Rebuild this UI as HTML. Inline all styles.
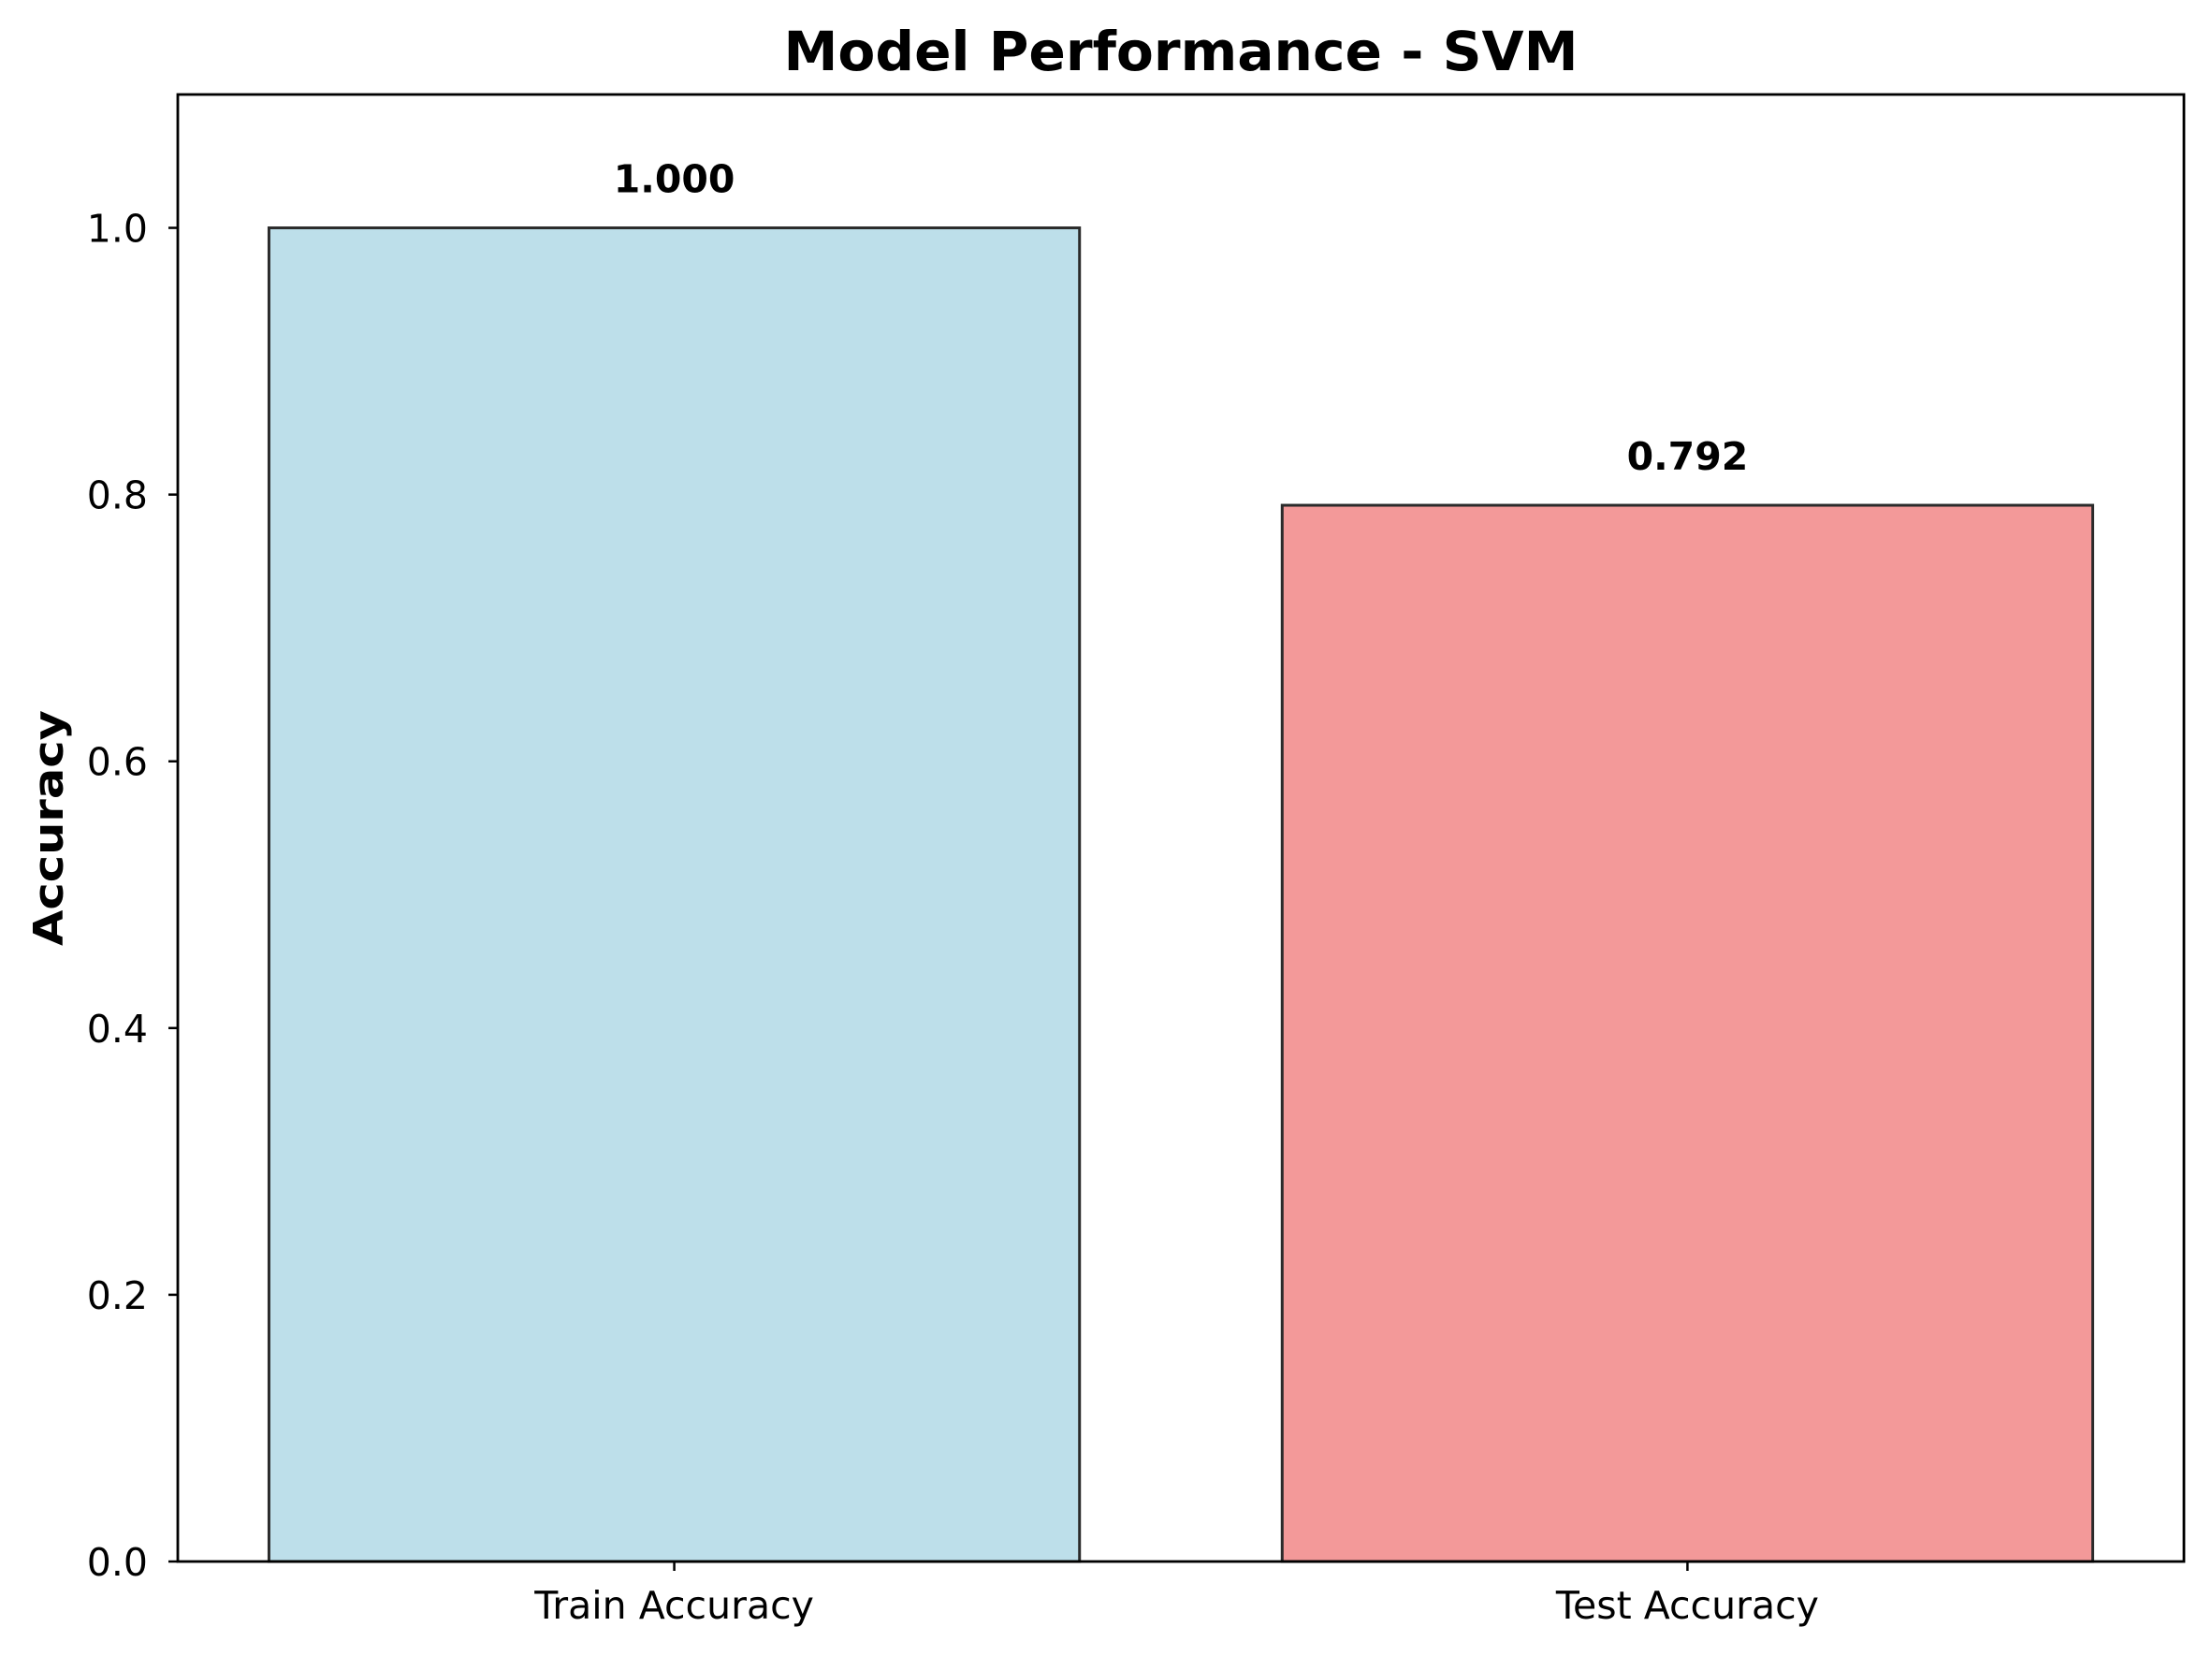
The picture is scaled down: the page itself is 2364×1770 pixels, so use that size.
<!DOCTYPE html>
<html><head><meta charset="utf-8"><style>
html,body{margin:0;padding:0;background:#fff;}
svg{display:block;font-family:"DejaVu Sans","Liberation Sans",sans-serif;}
</style></head><body>
<svg id="chart" width="2364" height="1770" viewBox="0 0 2364 1770">
<text x="1262" y="75" text-anchor="middle" font-size="58" font-weight="bold" textLength="849" lengthAdjust="spacingAndGlyphs">Model Performance - SVM</text>
<text transform="translate(67,885) rotate(-90)" text-anchor="middle" font-size="44" font-weight="bold" textLength="252" lengthAdjust="spacingAndGlyphs">Accuracy</text>
<g id="bars"></g>
<g id="yticks"></g>
<g id="xticks"></g>
<rect x="190" y="101" width="2144" height="1568" fill="none" stroke="#000" stroke-width="2.8"/>
</svg>
<script>
const categories = ["Train Accuracy", "Test Accuracy"];
const values = [1.000, 0.792];
const valueLabels = ["1.000", "0.792"];
const yTicks = [0.0, 0.2, 0.4, 0.6, 0.8, 1.0];
const yTickLabels = ["0.0", "0.2", "0.4", "0.6", "0.8", "1.0"];
const barColors = ["#bddfea", "#f39999"];

const NS = "http://www.w3.org/2000/svg";
const L = 190, R = 2334, T = 101, B = 1669;
const xMin = -0.49, xMax = 1.49, yMin = 0, yMax = 1.1;
function xs(v){ return L + (v - xMin) / (xMax - xMin) * (R - L); }
function ys(v){ return B - (v - yMin) / (yMax - yMin) * (B - T); }
function mk(tag, attrs, parent){ const e = document.createElementNS(NS, tag); for (const k in attrs) e.setAttribute(k, attrs[k]); parent.appendChild(e); return e; }

const gb = document.getElementById("bars");
categories.forEach((c, i) => {
  const x0 = xs(i - 0.4), x1 = xs(i + 0.4), y = ys(values[i]);
  const r = mk("rect", {x: x0, y: y, width: x1 - x0, height: B - y, fill: barColors[i], stroke: "#2b2b2b", "stroke-width": 3}, gb);
  
  
  const t = mk("text", {x: xs(i), y: y - 38, "text-anchor": "middle", "font-size": 41, "font-weight": "bold"}, gb);
  t.textContent = valueLabels[i];
  
  
});

const gy = document.getElementById("yticks");
yTicks.forEach((v, i) => {
  const y = ys(v);
  const l = mk("line", {x1: L - 10, x2: L, y1: y, y2: y, stroke: "#000", "stroke-width": 2.5}, gy);
  
  
  const t = mk("text", {x: 158, y: y + 15, "text-anchor": "end", "font-size": 41}, gy);
  t.textContent = yTickLabels[i];
  
  
});

const gx = document.getElementById("xticks");
categories.forEach((c, i) => {
  const x = xs(i);
  const l = mk("line", {x1: x, x2: x, y1: B, y2: B + 10, stroke: "#000", "stroke-width": 2.5}, gx);
  
  
  const t = mk("text", {x: x, y: 1730, "text-anchor": "middle", "font-size": 41}, gx);
  t.textContent = c;
  
  
});
</script>
</body></html>
